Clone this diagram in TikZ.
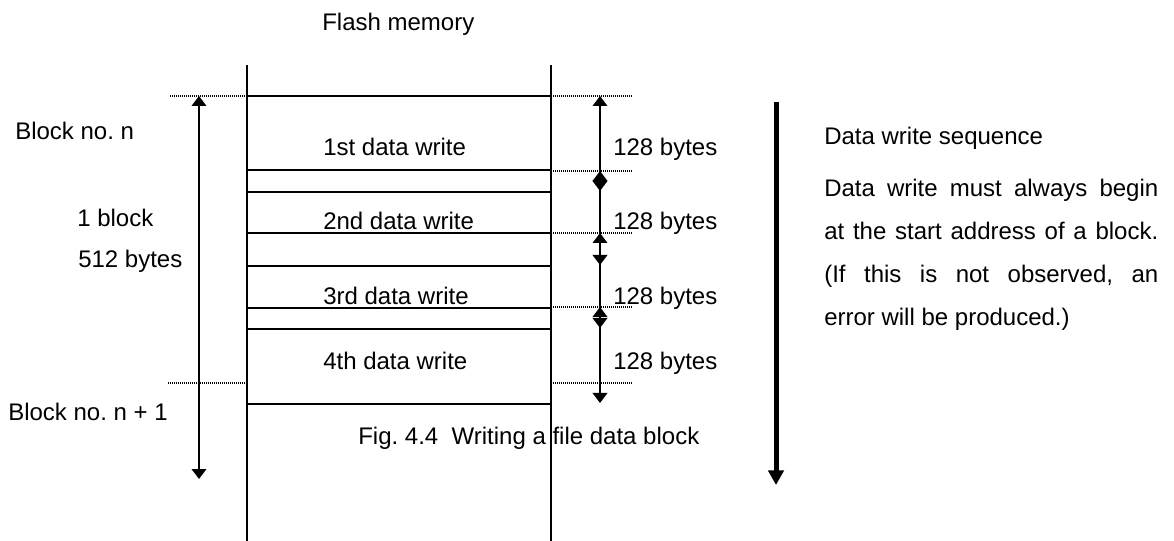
\documentclass[tikz,border=0pt]{standalone}
\usepackage{fontspec}
\setmainfont{Liberation Sans}
\usetikzlibrary{arrows.meta}
\frenchspacing

\begin{document}
\begin{tikzpicture}[x=0.75pt, y=-0.75pt,
    lbl/.style={font=\fontsize{18}{21}\selectfont, inner sep=0pt, anchor=base west},
    memline/.style={line width=1.1pt},
    rowline/.style={line width=1.4pt},
    guide/.style={line width=0.8pt, dash pattern=on 0.75pt off 0.75pt},
    sizearrow/.style={line width=1.1pt, {Triangle[width=11pt,length=7.5pt]}-{Triangle[width=11pt,length=7.5pt]}},
    seqarrow/.style={line width=3.75pt, -{Triangle[width=11.5pt,length=11pt]}}]
    \useasboundingbox (0,0) rectangle (1174,541);

    % Title
    \node[lbl] (title) at (322,31) {Flash memory};

    % Memory column
    \draw[memline] (247,65) -- (247,541);
    \draw[memline] (551,65) -- (551,541);
    \foreach \y in {96,170,192,233,266,308,329,404} {
        \draw[rowline] (247,\y) -- (551,\y);
    }

    % Block boundaries
    \draw[guide] (170,96) -- (247,96);
    \draw[guide] (168,383) -- (247,383);
    \foreach \y in {96,171,233,307,383} {
        \draw[guide] (551,\y) -- (632,\y);
    }

    % Block size
    \coordinate (blktop) at (199,96);
    \coordinate (blkbot) at (199,479);
    \draw[sizearrow] (blktop) -- (blkbot);
    \node[lbl] (blkn) at (15,140) {Block no. n};
    \node[lbl] (blkone) at (77,227) {1 block};
    \node[lbl] (blkbytes) at (78,268) {512 bytes};
    \node[lbl] (blknext) at (8,420) {Block no. n + 1};

    % Data writes, 128 bytes each
    \foreach \i/\name/\up/\dn/\base in {1/1st/96/191/156, 2/2nd/171/265/230, 3/3rd/233/328/305, 4/4th/307/403/369} {
        \coordinate (up\i) at (600,\up);
        \coordinate (dn\i) at (600,\dn);
        \draw[sizearrow] (up\i) -- (dn\i);
        \node[lbl] (write\i) at (323,\base) {\name\ data write};
        \node[lbl] (bytes\i) at (613,\base) {128 bytes};
    }

    % Caption
    \node[lbl] (caption) at (358,444) {Fig. 4.4\ \ Writing a file data block};

    % Write sequence
    \coordinate (seqtop) at (776,102);
    \coordinate (seqbot) at (776,485);
    \draw[seqarrow] (seqtop) -- (seqbot);
    \node[lbl] (seqtitle) at (824,145) {Data write sequence};
    \node[lbl, text width=250.5pt, align=justify, font=\fontsize{18}{32.25}\selectfont] (seqnote) at (824,197)
        {Data write must always begin\linebreak at the start address of a block.\linebreak (If this is not observed, an\linebreak error will be produced.)};
\end{tikzpicture}
\end{document}
